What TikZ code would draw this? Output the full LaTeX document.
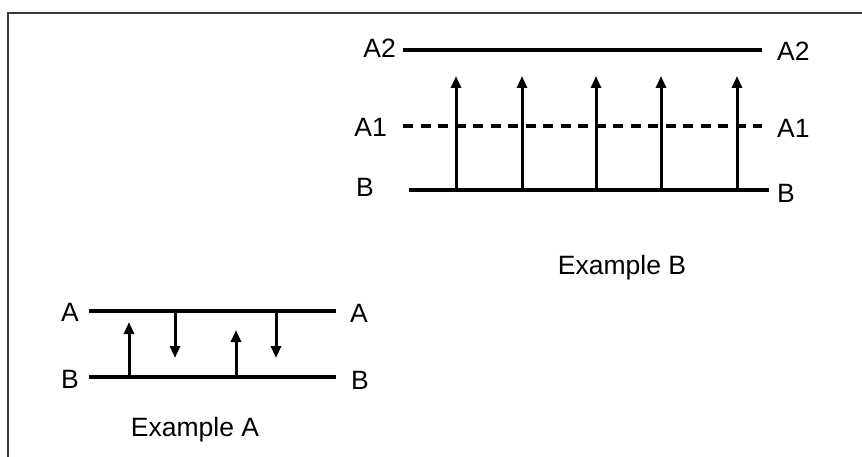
\documentclass[tikz,border=0pt]{standalone}
\usepackage{fontspec}
\setmainfont{Liberation Sans}
\usetikzlibrary{arrows.meta}
\begin{document}
\begin{tikzpicture}[x=1pt,y=-1pt,
  lbl/.style={inner sep=0pt,font=\fontsize{26.5}{30}\selectfont},
  level/.style={line width=3.4pt},
  dlevel/.style={line width=3.4pt,dash pattern=on 10pt off 7.5pt},
  trans/.style={line width=3pt,-{Triangle[length=12pt,width=10pt]}},
  frame/.style={line width=2.5pt,draw={rgb,255:red,60;green,60;blue,60}}]
\useasboundingbox (0,0) rectangle (862,457);
% frame
\coordinate (f1) at (8,457);
\coordinate (f2) at (8,13);
\coordinate (f3) at (862,13);
\draw[frame] (f1) -- (f2) -- (f3);
% Example B
\coordinate (a2s) at (403,50); \coordinate (a2e) at (762,50);
\coordinate (a1s) at (403,126); \coordinate (a1e) at (762,126);
\coordinate (bbs) at (409,190); \coordinate (bbe) at (769,190);
\draw[level] (a2s) -- (a2e);
\draw[dlevel] (a1s) -- (a1e);
\draw[level] (bbs) -- (bbe);
\node[lbl,anchor=east] (A2L) at (396,48) {A2};
\node[lbl,anchor=west] (A2R) at (777,51) {A2};
\node[lbl,anchor=east] (A1L) at (387,127) {A1};
\node[lbl,anchor=west] (A1R) at (777,128) {A1};
\node[lbl,anchor=east] (BL) at (374,187) {B};
\node[lbl,anchor=west] (BR) at (777,193) {B};
\foreach \i/\x in {1/456,2/522,3/596,4/661,5/737}{
  \coordinate (u\i) at (\x,190);
  \coordinate (t\i) at (\x,76);
  \draw[trans] (u\i) -- (t\i);
}
\node[lbl] (exB) at (622,268) {Example B};
% Example A
\coordinate (aas) at (89,311); \coordinate (aae) at (336,311);
\coordinate (abs) at (89,377); \coordinate (abe) at (336,377);
\draw[level] (aas) -- (aae);
\draw[level] (abs) -- (abe);
\node[lbl] (AL) at (70,312) {A};
\node[lbl] (BAL) at (70,379) {B};
\node[lbl] (AR) at (359,313) {A};
\node[lbl] (BAR) at (360,380) {B};
\coordinate (p1) at (129,377); \coordinate (q1) at (129,322);
\coordinate (p2) at (175,311); \coordinate (q2) at (175,358);
\coordinate (p3) at (236,377); \coordinate (q3) at (236,330);
\coordinate (p4) at (276,311); \coordinate (q4) at (276,358);
\draw[trans] (p1) -- (q1);
\draw[trans] (p2) -- (q2);
\draw[trans] (p3) -- (q3);
\draw[trans] (p4) -- (q4);
\node[lbl] (exA) at (195,430) {Example A};
\end{tikzpicture}
\end{document}
